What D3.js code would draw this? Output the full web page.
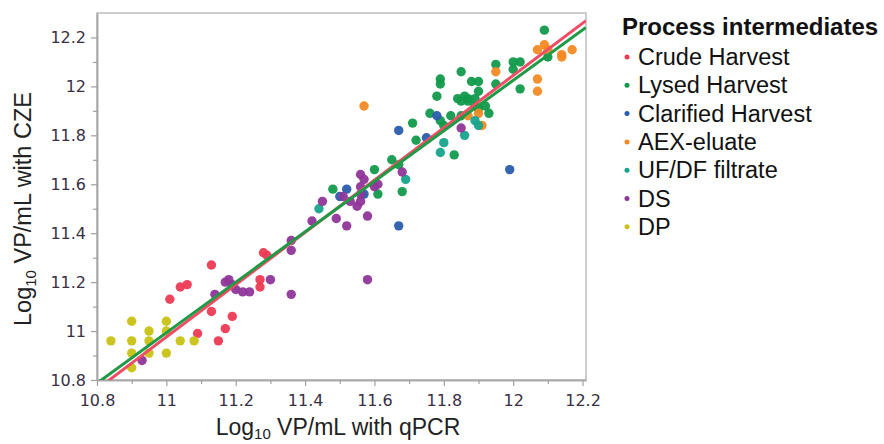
<!DOCTYPE html>
<html>
<head>
<meta charset="utf-8">
<script src="https://cdn.jsdelivr.net/npm/d3@7"></script>
<style>
  html, body { margin: 0; padding: 0; background: #fff; }
  svg { display: block; }
</style>
</head>
<body>
<svg id="chart" width="884" height="444"></svg>
<script>
// ---------------- DATA ----------------
const seriesNames = ["Crude Harvest", "Lysed Harvest", "Clarified Harvest", "AEX-eluate", "UF/DF filtrate", "DS", "DP"];
const seriesColors = ["#ee3a55", "#129a4c", "#2a5cac", "#f38a24", "#17a38b", "#8f3699", "#c9c215"];

// [qPCR, CZE] pairs (log10 VP/mL)
const crudeHarvest = [
  [11.01, 11.13], [11.04, 11.18], [11.06, 11.19], [11.09, 10.99], [11.13, 11.08],
  [11.13, 11.27], [11.15, 10.96], [11.17, 11.01], [11.19, 11.06], [11.27, 11.21],
  [11.27, 11.18], [11.28, 11.32], [11.29, 11.31]
];
const lysedHarvest = [
  [11.48, 11.58], [11.60, 11.66], [11.61, 11.56], [11.65, 11.70], [11.67, 11.68],
  [11.68, 11.57], [11.71, 11.85], [11.72, 11.78], [11.76, 11.89], [11.78, 11.96],
  [11.79, 12.03], [11.79, 12.01], [11.79, 11.86], [11.80, 11.84], [11.82, 11.88],
  [11.83, 11.72], [11.85, 12.06], [11.84, 11.95], [11.86, 11.96], [11.87, 11.95],
  [11.87, 11.94], [11.89, 11.95], [11.89, 11.92], [11.88, 12.02], [11.90, 12.02],
  [11.90, 11.98], [11.85, 11.88], [11.85, 11.94], [11.90, 11.91], [11.92, 11.92],
  [11.93, 11.89], [11.95, 12.09], [11.95, 12.01], [12.00, 12.10], [12.00, 12.07],
  [12.02, 12.10], [12.02, 11.99], [12.09, 12.23], [12.10, 12.12]
];
const clarifiedHarvest = [
  [11.50, 11.55], [11.52, 11.58], [11.57, 11.56], [11.67, 11.43], [11.67, 11.82],
  [11.75, 11.79], [11.78, 11.88], [11.99, 11.66]
];
const aexEluate = [
  [11.57, 11.92], [11.87, 11.88], [11.90, 11.89], [11.91, 11.84], [11.95, 12.06],
  [12.07, 12.03], [12.07, 11.98], [12.07, 12.15], [12.09, 12.17], [12.10, 12.15],
  [12.14, 12.13], [12.14, 12.12], [12.17, 12.15]
];
const ufdfFiltrate = [
  [11.44, 11.50], [11.69, 11.62], [11.80, 11.77], [11.79, 11.73], [11.86, 11.80],
  [11.89, 11.86], [11.90, 11.84]
];
const drugSubstance = [
  [10.93, 10.88], [11.14, 11.15], [11.17, 11.20], [11.18, 11.21], [11.19, 11.19],
  [11.20, 11.17], [11.22, 11.16], [11.24, 11.16], [11.30, 11.21], [11.36, 11.15],
  [11.36, 11.33], [11.36, 11.37], [11.42, 11.45], [11.45, 11.53], [11.49, 11.46],
  [11.52, 11.43], [11.51, 11.55], [11.53, 11.53], [11.55, 11.51], [11.56, 11.53],
  [11.56, 11.56], [11.56, 11.64], [11.57, 11.62], [11.56, 11.59], [11.58, 11.47],
  [11.58, 11.21], [11.60, 11.59], [11.61, 11.60], [11.68, 11.65], [11.85, 11.83]
];
const drugProduct = [
  [10.84, 10.96], [10.90, 11.04], [10.90, 10.96], [10.90, 10.91], [10.90, 10.85],
  [10.95, 11.00], [10.95, 10.96], [10.95, 10.91], [11.00, 11.04], [11.00, 11.00],
  [11.00, 10.91], [11.04, 10.96], [11.08, 10.96]
];
const seriesData = [crudeHarvest, lysedHarvest, clarifiedHarvest, aexEluate, ufdfFiltrate, drugSubstance, drugProduct];

// Fit lines (endpoints across x domain)
const redFitLine = [[10.80, 10.762], [12.21, 12.269]];
const greenFitLine = [[10.80, 10.787], [12.21, 12.241]];

// Axis ticks
const xTicks = [10.8, 11.0, 11.2, 11.4, 11.6, 11.8, 12.0, 12.2];
const yTicks = [10.8, 11.0, 11.2, 11.4, 11.6, 11.8, 12.0, 12.2];
const xMinorTicks = [10.9, 11.1, 11.3, 11.5, 11.7, 11.9, 12.1];
const yMinorTicks = [10.9, 11.1, 11.3, 11.5, 11.7, 11.9, 12.1];
const legendTitle = "Process intermediates";

// ---------------- CHART ----------------
const svg = d3.select("#chart");
const L = 97, R = 586, T = 13, B = 380;
const x = d3.scaleLinear().domain([10.8, 12.21]).range([L, R]);
const y = d3.scaleLinear().domain([10.8, 12.3]).range([B, T]);
const fmt = d => String(+d.toFixed(1));

// frame
svg.append("rect")
  .attr("x", L).attr("y", T).attr("width", R - L).attr("height", B - T)
  .attr("fill", "none").attr("stroke", "#bdbdbd").attr("stroke-width", 1.5);

// x axis
const gx = svg.append("g").attr("transform", `translate(0,${B})`)
  .call(d3.axisBottom(x).tickValues(xTicks).tickFormat(fmt).tickSize(6).tickSizeOuter(0).tickPadding(9));
const gxm = svg.append("g").attr("transform", `translate(0,${B})`)
  .call(d3.axisBottom(x).tickValues(xMinorTicks).tickFormat("").tickSize(4).tickSizeOuter(0));
// y axis
const gy = svg.append("g").attr("transform", `translate(${L},0)`)
  .call(d3.axisLeft(y).tickValues(yTicks).tickFormat(fmt).tickSize(6).tickSizeOuter(0).tickPadding(5));
const gym = svg.append("g").attr("transform", `translate(${L},0)`)
  .call(d3.axisLeft(y).tickValues(yMinorTicks).tickFormat("").tickSize(4).tickSizeOuter(0));

[gx, gxm, gy, gym].forEach(g => {
  g.select(".domain").attr("stroke", "#a8a8a8").attr("stroke-width", 1.5);
  g.selectAll(".tick line").attr("stroke", "#a0a0a0").attr("stroke-width", 1.2);
  g.selectAll(".tick text").attr("font-family", "DejaVu Sans").attr("font-size", 16).attr("fill", "#3a2f45");
});

// clip
svg.append("clipPath").attr("id", "plotclip").append("rect")
  .attr("x", L).attr("y", T).attr("width", R - L).attr("height", B - T);

// points
const pts = svg.append("g").attr("clip-path", "url(#plotclip)");
seriesData.forEach((data, i) => {
  pts.selectAll(null).data(data).enter().append("circle")
    .attr("cx", d => x(d[0])).attr("cy", d => y(d[1])).attr("r", 4.7)
    .attr("fill", seriesColors[i]).attr("fill-opacity", 0.95);
});

// fit lines
const line = d3.line().x(d => x(d[0])).y(d => y(d[1]));
const lines = svg.append("g").attr("clip-path", "url(#plotclip)");
lines.append("path").datum(redFitLine).attr("d", line)
  .attr("stroke", "#ef4d63").attr("stroke-width", 3).attr("fill", "none");
lines.append("path").datum(greenFitLine).attr("d", line)
  .attr("stroke", "#1f9a46").attr("stroke-width", 3).attr("fill", "none");

// axis titles
const xt = svg.append("text").attr("x", 338).attr("y", 435).attr("text-anchor", "middle")
  .attr("font-family", "Liberation Sans, Arial, sans-serif").attr("font-size", 23).attr("fill", "#222");
xt.append("tspan").text("Log");
xt.append("tspan").attr("font-size", 15).attr("dy", 4).text("10");
xt.append("tspan").attr("dy", -4).text(" VP/mL with qPCR");

const yt = svg.append("text").attr("transform", "translate(31,209) rotate(-90)").attr("text-anchor", "middle")
  .attr("font-family", "Liberation Sans, Arial, sans-serif").attr("font-size", 23.5).attr("fill", "#222");
yt.append("tspan").text("Log");
yt.append("tspan").attr("font-size", 15).attr("dy", 5).text("10");
yt.append("tspan").attr("dy", -5).text(" VP/mL with CZE");

// legend
const lg = svg.append("g");
lg.append("text").attr("x", 622).attr("y", 35).text(legendTitle)
  .attr("font-family", "Liberation Sans, Arial, sans-serif").attr("font-weight", "bold")
  .attr("font-size", 24).attr("fill", "#111");
seriesNames.forEach((name, i) => {
  const by = 65 + i * 28.3;
  lg.append("circle").attr("cx", 627).attr("cy", by - 8).attr("r", 2.5).attr("fill", seriesColors[i]);
  lg.append("text").attr("x", 638).attr("y", by).text(name)
    .attr("font-family", "Liberation Sans, Arial, sans-serif").attr("font-size", 23.5).attr("fill", "#111");
});
</script>
</body>
</html>
